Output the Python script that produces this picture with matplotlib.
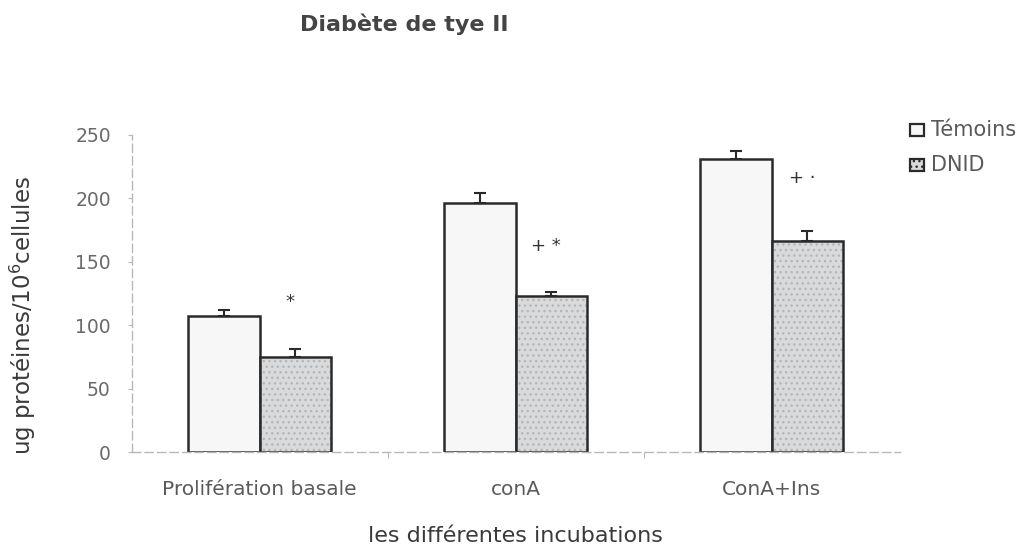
import numpy as np
import matplotlib
matplotlib.use("Agg")
import matplotlib.pyplot as plt
from matplotlib.patches import Rectangle

plt.rcParams['font.family'] = ['DejaVu Sans']

categories = ["Prolifération basale", "conA", "ConA+Ins"]
temoins = [107, 196, 231]
temoins_err = [5, 8, 6]
dnid = [75, 123, 166]
dnid_err = [6, 3, 8]
signif_marks = ["*", "+ *", "+ ·"]
signif_levels = [118, 162, 216]

fig = plt.figure(figsize=(10.28, 5.48), dpi=100)
ax = fig.add_axes([0.128, 0.175, 0.747, 0.579])

x = np.arange(len(categories))
w = 0.28
edge = '#2a2a2a'
dnid_fill = '#d8dadc'

# Témoins bars
ax.bar(x - w / 2, temoins, width=w, facecolor='#f7f7f7', edgecolor=edge,
       linewidth=1.8, zorder=2)
# DNID bars: speckled fill, then outline on top
ax.bar(x + w / 2, dnid, width=w, facecolor=dnid_fill, edgecolor='#b4b6b8',
       linewidth=0, hatch='...', zorder=2)
ax.bar(x + w / 2, dnid, width=w, fill=False, edgecolor=edge, linewidth=1.8, zorder=2.5)

ax.errorbar(x - w / 2, temoins, yerr=[np.zeros(3), temoins_err], fmt='none',
            ecolor=edge, elinewidth=1.5, capsize=4, capthick=1.5, zorder=3)
ax.errorbar(x + w / 2, dnid, yerr=[np.zeros(3), dnid_err], fmt='none',
            ecolor=edge, elinewidth=1.5, capsize=4, capthick=1.5, zorder=3)

for xi, mark, lvl in zip(x, signif_marks, signif_levels):
    ax.text(xi + w / 2 - 0.02, lvl, mark, ha='center', va='center', fontsize=13, color='#333333')

ax.set_xlim(-0.5, 2.5)
ax.set_ylim(0, 250)
ax.set_yticks([0, 50, 100, 150, 200, 250])
ax.set_xticks(x)
ax.set_xticklabels(categories)
ax.set_xticks([0.5, 1.5], minor=True)
ax.tick_params(axis='x', which='major', length=0, pad=20, labelsize=14.5, labelcolor='#5a5a5a')
ax.tick_params(axis='x', which='minor', length=4, color='#aaaaaa', direction='out')
ax.tick_params(axis='y', length=3, color='#b8b8b8', pad=12, labelsize=13.5, labelcolor='#6a6a6a')

for side in ['top', 'right']:
    ax.spines[side].set_visible(False)
for side in ['left', 'bottom']:
    ax.spines[side].set_color('#b8b8b8')
    ax.spines[side].set_linestyle((0, (6, 3)))
    ax.spines[side].set_linewidth(1.0)

ax.set_xlabel("les différentes incubations", fontsize=16, color='#3a3a3a')
ax.xaxis.set_label_coords(0.5, -0.232)
ax.set_ylabel("ug protéines/10$^6$cellules", fontsize=16.5, color='#3a3a3a')
ax.yaxis.set_label_coords(-0.122, 0.43)

fig.text(0.393, 0.955, "Diabète de tye II", ha='center', va='center', fontsize=16,
         color='#444444', fontweight='bold')

# legend entries drawn as small boxes with labels
leg_items = [("Témoins", '#f7f7f7', None), ("DNID", dnid_fill, '...')]
for i, (lab, fc, hatch) in enumerate(leg_items):
    yf = 0.763 - i * 0.064
    fig.patches.append(Rectangle((0.885, yf - 0.011), 0.014, 0.022, transform=fig.transFigure,
                                 facecolor=fc, edgecolor=edge, linewidth=1.6,
                                 hatch=hatch, figure=fig))
    fig.text(0.906, yf, lab, ha='left', va='center', fontsize=15, color='#5a5a5a')

fig.savefig("out.png", dpi=100, facecolor='white')
